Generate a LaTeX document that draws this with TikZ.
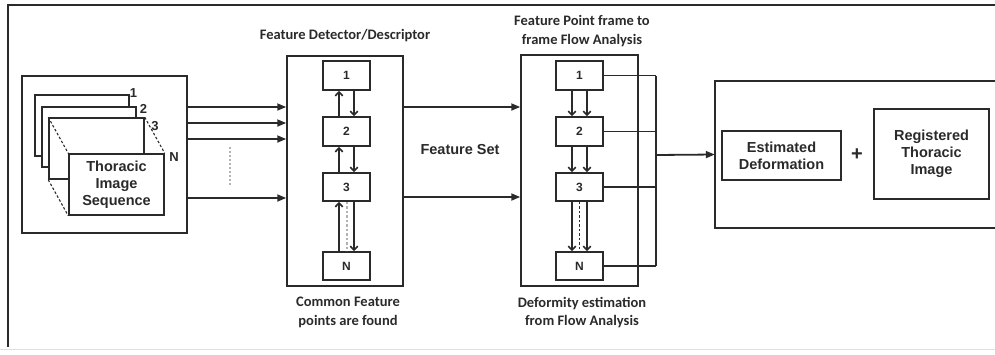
\documentclass[tikz,border=0pt]{standalone}
\usepackage{fontspec}
\setmainfont{Liberation Sans}
\newfontfamily\califont{Carlito}
\usetikzlibrary{arrows.meta,calc}
\definecolor{ink}{HTML}{2A2A2A}
\begin{document}
\begin{tikzpicture}[x=1pt,y=-1pt,
  box/.style={draw=ink, line width=1.5pt, fill=white, inner sep=0pt, text=ink},
  lbl/.style={font=\fontsize{14.5}{17}\selectfont\bfseries, text=ink, align=center},
  ttl/.style={font=\califont\fontsize{14.5}{18.5}\selectfont\bfseries, text=ink, align=center},
  num/.style={font=\fontsize{12}{14}\selectfont\bfseries, text=ink},
  arr/.style={draw=ink, -{Triangle[length=9pt,width=7pt]}, line width=1.8pt},
  sarr/.style={draw=ink, -{Straight Barb[length=4pt,width=7.5pt]}, line width=1.6pt},
  ln/.style={draw=ink, line width=1.6pt}]
\useasboundingbox (0,0) rectangle (995,354);
% outer frame
\draw[ink, line width=2.4pt] (995,5) -- (8,5) -- (8,347);
\draw[gray!25, line width=0.8pt] (0,349.5) -- (995,349.5);

% image sequence
\node[box, minimum width=165, minimum height=157] (seq) at (104.5,154.5) {};
\node[box, minimum width=94, minimum height=61] (fr1) at (82,125.5) {};
\node[box, minimum width=94, minimum height=60] (fr2) at (89,137) {};
\node[box, minimum width=95, minimum height=61] (fr3) at (96.5,148.5) {};
\node[box, lbl, minimum width=95, minimum height=61] (front) at (116.5,184.5) {Thoracic\\Image\\Sequence};
\draw[ink, line width=1.1pt, dash pattern=on 2.5pt off 2pt] (fr3.north west) -- (front.north west);
\draw[ink, line width=1.1pt, dash pattern=on 2.5pt off 2pt] (fr3.south west) -- (front.south west);
\draw[ink, line width=1.1pt, dash pattern=on 2.5pt off 2pt] (fr3.north east) -- (front.north east);
\node[num, font=\fontsize{13}{15}\selectfont\bfseries] (l1) at (133.5,93) {1};
\node[num, font=\fontsize{13}{15}\selectfont\bfseries] (l2) at (143.5,109) {2};
\node[num, font=\fontsize{13}{15}\selectfont\bfseries] (l3) at (155,126) {3};
\node[num, font=\fontsize{13}{15}\selectfont\bfseries] (lN) at (174,157) {N};

% feature detector
\node[box, minimum width=116, minimum height=230] (det) at (345,171) {};
\node[ttl] (dett) at (345,36) {Feature Detector/Descriptor};
\node[ttl] (detb) at (348,312.5) {Common Feature\\points are found};
\node[box, num, minimum width=47, minimum height=29] (d1) at (346.5,75.5) {1};
\node[box, num, minimum width=47, minimum height=29] (d2) at (346.5,131.5) {2};
\node[box, num, minimum width=47, minimum height=28] (d3) at (346.5,187) {3};
\node[box, num, minimum width=47, minimum height=28] (dN) at (346.5,266) {N};
\foreach \a/\b in {d1/d2, d2/d3, d3/dN} {
  \draw[sarr] ([xshift=-7.5pt]\b.north) -- ([xshift=-7.5pt]\a.south);
  \draw[sarr] ([xshift=7.5pt]\a.south) -- ([xshift=7.5pt]\b.north);
}
\draw[gray!60, line width=1.3pt, dash pattern=on 2.5pt off 2pt] ([xshift=0.5pt]d3.south) -- ([xshift=0.5pt]dN.north);

% input arrows
\foreach \y in {107,123,139,198} {
  \draw[arr] (seq.east |- 0,\y) -- (det.west |- 0,\y);
}
\draw[gray!60, line width=1.4pt, dash pattern=on 2pt off 2pt] (230,147) -- (230,185);

% flow analysis
\node[box, minimum width=117, minimum height=231] (flow) at (579.5,170.5) {};
\node[ttl] (flowt) at (582,31) {Feature Point frame to\\frame Flow Analysis};
\node[ttl] (flowb) at (582,312.5) {Deformity estimation\\from Flow Analysis};
\node[box, num, minimum width=47, minimum height=29] (f1) at (579.5,75.5) {1};
\node[box, num, minimum width=47, minimum height=29] (f2) at (579.5,131.5) {2};
\node[box, num, minimum width=47, minimum height=28] (f3) at (579.5,187) {3};
\node[box, num, minimum width=47, minimum height=28] (fN) at (579.5,266) {N};
\foreach \a/\b in {f1/f2, f2/f3, f3/fN} {
  \draw[sarr] ([xshift=-7.5pt]\a.south) -- ([xshift=-7.5pt]\b.north);
  \draw[sarr] ([xshift=7.5pt]\a.south) -- ([xshift=7.5pt]\b.north);
}
\draw[ink, line width=1.2pt, dash pattern=on 2.5pt off 2pt] (f3.south) -- (fN.north);

% feature set
\draw[arr] (det.east |- 0,107) -- (flow.west |- 0,107);
\draw[arr] (det.east |- 0,197) -- (flow.west |- 0,197);
\node[lbl] (fs) at (460,150) {Feature Set};

% result
\node[minimum width=280, minimum height=147, inner sep=0pt] (res) at (855,154.5) {};
\draw[ln] (res.north east) -- (res.north west) -- (res.south west) -- (res.south east);
\coordinate (bus) at (656,155);
\foreach \n in {f1,f2,f3,fN} { \draw[ln] (\n.east) -- (\n.east -| bus); }
\draw[ln] (f1.east -| bus) -- (fN.east -| bus);
\draw[arr] (bus) -- (res.west);
\node[box, lbl, minimum width=119, minimum height=49] (est) at (781.5,155.5) {Estimated\\Deformation};
\node[lbl, font=\fontsize{20}{20}\selectfont\bfseries] (plus) at (857,155) {+};
\node[box, lbl, minimum width=115, minimum height=90] (reg) at (931.5,154) {Registered\\Thoracic\\Image};
\end{tikzpicture}
\end{document}
